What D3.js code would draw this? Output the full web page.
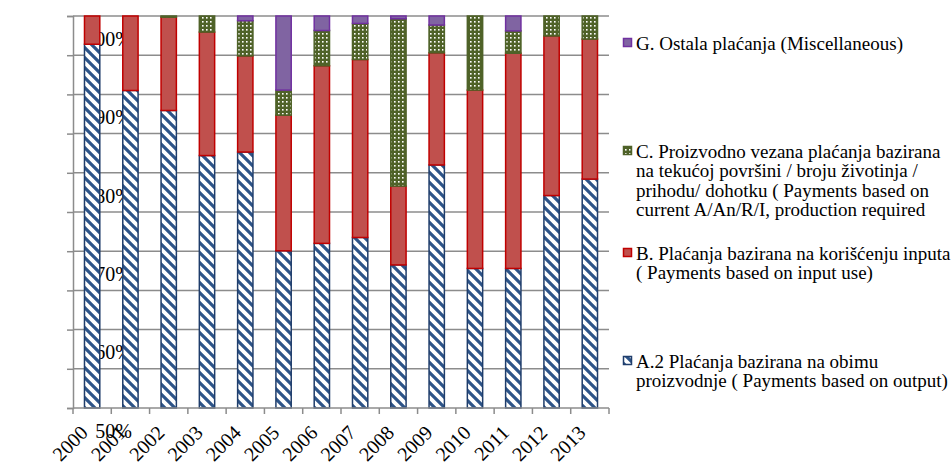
<!DOCTYPE html>
<html>
<head>
<script src="https://cdn.jsdelivr.net/npm/d3@7"></script>
</head>
<body style="margin:0">
<div id="chart"></div>
<script>
// values, percent shares per year, stacked bottom -> top
const years = ["2000","2001","2002","2003","2004","2005","2006","2007","2008","2009","2010","2011","2012","2013"];
const seriesA2 = [92.8, 81.0, 75.9, 64.4, 65.3, 40.1, 42.0, 43.5, 36.5, 62.0, 35.6, 35.6, 54.2, 58.4];
const seriesB  = [7.2, 19.0, 23.8, 31.5, 24.5, 34.6, 45.3, 45.4, 20.1, 28.6, 45.5, 54.9, 40.7, 35.7];
const seriesC  = [0, 0, 0.3, 4.1, 9.0, 6.4, 9.0, 9.2, 42.7, 7.1, 18.9, 5.7, 5.1, 5.9];
const seriesG  = [0, 0, 0, 0, 1.2, 18.9, 3.7, 1.9, 0.7, 2.3, 0, 3.8, 0, 0];
const yTicks = [0, 10, 20, 30, 40, 50, 60, 70, 80, 90, 100];

const legendG = ["G. Ostala plaćanja (Miscellaneous)"];
const legendC = ["C. Proizvodno vezana plaćanja bazirana", "na tekućoj površini / broju životinja /", "prihodu/ dohotku ( Payments based on", "current A/An/R/I, production required"];
const legendB = ["B. Plaćanja bazirana na korišćenju inputa", "( Payments based on input use)"];
const legendA = ["A.2 Plaćanja bazirana na obimu", "proizvodnje ( Payments based on output)"];

const margin = {top: 16, right: 342, bottom: 59, left: 73},
    width = 951 - margin.left - margin.right,
    height = 467 - margin.top - margin.bottom;

const svgRoot = d3.select("#chart").append("svg")
    .attr("width", 951)
    .attr("height", 467);

// fill patterns
const defs = svgRoot.append("defs");
const stripes = defs.append("pattern")
    .attr("id", "stripesA")
    .attr("patternUnits", "userSpaceOnUse")
    .attr("width", 10).attr("height", 10);
stripes.append("rect").attr("width", 10).attr("height", 10).attr("fill", "#ffffff");
stripes.append("path")
    .attr("d", "M-2,-2 L12,12 M-12,-2 L2,12 M8,-2 L22,12")
    .attr("stroke", "#2d5489").attr("stroke-width", 3.2);

const dots = defs.append("pattern")
    .attr("id", "dotsC")
    .attr("patternUnits", "userSpaceOnUse")
    .attr("width", 4).attr("height", 4);
dots.append("rect").attr("width", 4).attr("height", 4).attr("fill", "#4f6228");
dots.append("rect").attr("x", 1).attr("y", 1).attr("width", 1.6).attr("height", 1.6).attr("fill", "#ffffff");

const svg = svgRoot.append("g")
    .attr("transform", `translate(${margin.left},${margin.top})`);

const x = d3.scaleBand()
    .domain(years)
    .range([0, width])
    .paddingInner(0.6)
    .paddingOuter(0.3);

const y = d3.scaleLinear()
    .domain([0, 100])
    .range([height, 0]);

// horizontal gridlines
svg.append("g")
    .selectAll("line")
    .data(yTicks.filter(d => d > 0))
    .join("line")
    .attr("x1", 0).attr("x2", width)
    .attr("y1", d => y(d)).attr("y2", d => y(d))
    .attr("stroke", "#8c8c8c").attr("stroke-width", 1.5);

// y axis line + ticks (labels drawn below, straight on the svg)
const yAxis = svg.append("g")
    .call(d3.axisLeft(y).tickValues(yTicks).tickFormat("").tickSize(6));
yAxis.select(".domain").attr("stroke", "#8c8c8c").attr("stroke-width", 1.5);
yAxis.selectAll(".tick line").attr("stroke", "#8c8c8c").attr("stroke-width", 1.5);

// stacked bars
const rows = years.map((yr, i) => ({year: yr, A: seriesA2[i], B: seriesB[i], C: seriesC[i], G: seriesG[i]}));
const layers = d3.stack().keys(["A", "B", "C", "G"])(rows);

const fills = {A: "url(#stripesA)", B: "#c0504d", C: "url(#dotsC)", G: "#8064a2"};
const strokes = {A: "#1f3d6b", B: "#c00000", C: "#4f6228", G: "#7030a0"};

svg.append("g")
    .selectAll("g")
    .data(layers)
    .join("g")
    .attr("fill", d => fills[d.key])
    .attr("stroke", d => strokes[d.key])
    .attr("stroke-width", 1.5)
    .selectAll("rect")
    .data(d => d.filter(s => s[1] - s[0] > 0))
    .join("rect")
    .attr("x", d => x(d.data.year))
    .attr("width", x.bandwidth())
    .attr("y", d => y(d[1]))
    .attr("height", d => y(d[0]) - y(d[1]));

// x axis: line and ticks between categories
const xAxisG = svg.append("g")
    .attr("transform", `translate(0,${height})`);
xAxisG.append("line")
    .attr("x1", 0).attr("x2", width)
    .attr("stroke", "#8c8c8c").attr("stroke-width", 1.5);
xAxisG.selectAll("line.tk")
    .data(d3.range(years.length + 1))
    .join("line")
    .attr("class", "tk")
    .attr("x1", i => i * x.step()).attr("x2", i => i * x.step())
    .attr("y1", 0).attr("y2", 6)
    .attr("stroke", "#8c8c8c").attr("stroke-width", 1.5);

// legend swatches
const legendItems = [
    {key: "G", y: 43, lines: legendG},
    {key: "C", y: 151, lines: legendC},
    {key: "B", y: 253, lines: legendB},
    {key: "A", y: 361, lines: legendA}
];
svgRoot.selectAll("rect.sw")
    .data(legendItems)
    .join("rect")
    .attr("class", "sw")
    .attr("x", 623.5).attr("y", d => d.y - 4.5)
    .attr("width", 8).attr("height", 8)
    .attr("fill", d => fills[d.key])
    .attr("stroke", d => strokes[d.key])
    .attr("stroke-width", 1.5);

// all texts go straight onto the svg root, one text element per line
const texts = [];
yTicks.forEach(v => texts.push({t: v + "%", x: margin.left - 14, y: margin.top + y(v) + 7, size: 20, anchor: "end", rot: 0}));
years.forEach(yr => texts.push({t: yr, x: margin.left + x(yr) + x.bandwidth() / 2 - 3, y: margin.top + height + 26, size: 20, anchor: "end", rot: -45}));
legendItems.forEach(item => {
    item.lines.forEach((line, j) => texts.push({t: line, x: 636, y: item.y + 6.5 + j * 19.5, size: 19, anchor: "start", rot: 0}));
});

svgRoot.selectAll("text")
    .data(texts)
    .join("text")
    .attr("x", d => d.x)
    .attr("y", d => d.y)
    .attr("text-anchor", d => d.anchor)
    .attr("transform", d => d.rot ? `rotate(${d.rot},${d.x},${d.y})` : null)
    .attr("fill", "#000")
    .style("font-family", d => "'Liberation Serif'")
    .style("font-size", d => d.size + "px")
    .text(d => d.t);
</script>
</body>
</html>
